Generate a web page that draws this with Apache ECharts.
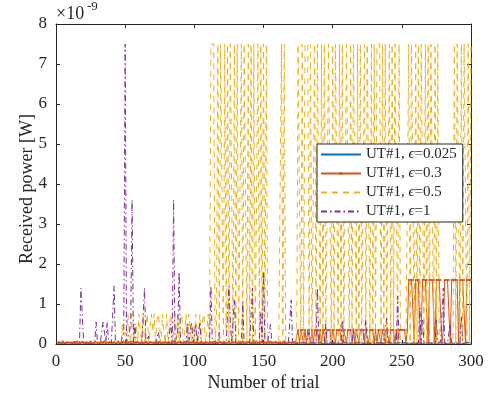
<!DOCTYPE html>
<html>
<head>
<meta charset="utf-8">
<script src="https://cdn.jsdelivr.net/npm/echarts@6/dist/echarts.min.js"></script>
<style>html,body{margin:0;padding:0;background:#fff;}#c{width:494px;height:401px;}</style>
</head>
<body>
<div id="c"></div>
<script>
// Received power (x1e-9 W) per trial, trials 1..300
var seriesNames = ['UT#1, ϵ=0.025', 'UT#1, ϵ=0.3', 'UT#1, ϵ=0.5', 'UT#1, ϵ=1'];
var xTicks = [0, 50, 100, 150, 200, 250, 300];
var yTicks = [0, 1, 2, 3, 4, 5, 6, 7, 8];

var eps0025 = [
.02,.01,.02,.03,.02,.01,.02,.02,.03,.01,
.02,.02,.01,.03,.02,.02,.01,.02,.03,.02,
.01,.02,.02,.03,.01,.02,.02,.01,.03,.02,
.02,.01,.02,.03,.02,.01,.02,.02,.03,.01,
.02,.02,.01,.03,.02,.02,.01,.02,.03,.02,
.01,.02,.02,.03,.01,.02,.02,.01,.03,.02,
.02,.01,.02,.03,.02,.01,.02,.02,.03,.01,
.02,.02,.01,.03,.02,.02,.01,.02,.03,.02,
.01,.02,.02,.03,.01,.02,.02,.01,.03,.02,
.02,.01,.02,.03,.02,.01,.02,.02,.03,.01,
.02,.02,.01,.03,.02,.02,.01,.02,.03,.02,
.01,.02,.02,.03,.01,.02,.02,.01,.03,.02,
.02,.01,.02,.03,.02,.01,.02,.02,.03,.01,
.02,.02,.01,.03,.02,.02,.01,.02,.03,.02,
.01,.02,.02,.03,.01,.02,.02,.01,.03,.02,
.02,.01,.02,.03,.02,.01,.02,.02,.03,.01,
.02,.02,.01,.03,.02,.02,.01,.02,.03,.02,
.01,.02,.02,.03,.01,.02,.02,.01,.03,.02,
.02,.01,.02,.03,.02,.01,.02,.02,.03,.01,
.02,.02,.01,.03,.02,.02,.01,.02,.03,.02,
.01,.02,.02,.03,.01,.02,.02,.01,.03,.02,
.02,.01,.02,.03,.02,.01,.02,.02,.03,.01,
.02,.02,.01,.03,.02,.02,.01,.02,.03,.02,
.01,.02,.02,.03,.01,.02,.02,.01,.03,.02,
.02,.01,.02,.03,.02,.01,.02,.02,.03,.01,
.02,.02,.01,.03,.02,.02,.01,.02,.03,.02,
.01,.02,.02,.03,.01,.02,.02,.01,.03,.02,
.02,.01,.02,.03,.02,.01,.02,.02,.03,.01,
.02,.02,.01,.03,.02,.02,.01,.02,.03,.02,
.01,.02,.02,.03,.01,.02,.02,.01,.03,.02
];

var eps03 = [
.03,.05,.02,.04,.06,.03,.02,.05,.04,.03,
.04,.02,.05,.03,.06,.02,.04,.03,.05,.02,
.03,.05,.02,.04,.06,.03,.02,.05,.04,.03,
.04,.02,.05,.03,.06,.02,.04,.03,.05,.02,
.03,.05,.02,.04,.06,.03,.02,.05,.04,.03,
.04,.02,.05,.03,.06,.02,.04,.03,.05,.02,
.03,.05,.02,.04,.06,.03,.02,.05,.04,.03,
.04,.02,.05,.03,.06,.02,.04,.03,.05,.02,
.03,.05,.02,.04,.06,.03,.02,.05,.04,.03,
.04,.02,.05,.03,.06,.02,.04,.03,.05,.02,
.03,.05,.02,.04,.06,.03,.02,.05,.04,.03,
.04,.02,.05,.03,.06,.02,.04,.03,.05,.02,
.03,.05,.02,.04,.06,.03,.02,.05,.04,.03,
.04,.02,.05,.03,.06,.02,.04,.03,.05,.02,
.03,.05,.02,.04,.06,.03,.02,.05,.04,.03,
.04,.02,.05,.03,.06,.02,.04,.03,.05,.02,
.03,.05,.02,.04,.06,.03,.02,.05,.04,.03,
.03,.05,.02,.04,.35,.02,.35,.35,.02,.35,
.02,.35,.35,.02,.35,.02,.35,.35,.35,.02,
.35,.02,.35,.35,.02,.35,.35,.35,.02,.35,
.35,.02,.35,.35,.35,.35,.02,.35,.35,.02,
.35,.35,.35,.02,.35,.02,.35,.35,.02,.35,
.35,.35,.02,.35,.35,.02,.35,.35,.35,.02,
.35,.02,.35,.35,.02,.35,.35,.02,.35,.35,
.02,.35,.35,.35,.02,.35,.02,.35,.35,.35,
.35,.35,.02,.35,1.6,1.6,1.6,1.6,.02,1.6,
1.6,1.6,.02,.35,1.6,1.6,1.6,1.6,.02,1.6,
1.6,1.6,1.6,.02,1.6,1.6,1.6,1.6,.02,.35,
1.6,1.6,1.6,1.6,.02,1.6,1.6,1.6,1.6,1.6,
.02,1.6,1.6,1.6,1.6,.02,1.6,1.6,1.6,1.6
];

var eps05 = [
.02,.03,.02,.02,.03,.02,.02,.03,.02,.02,
.03,.02,.02,.03,.02,.02,.03,.02,.02,.03,
.02,.02,.03,.02,.02,.03,.02,.02,.03,.02,
.02,.03,.02,.02,.03,.02,.02,.03,.02,.02,
.02,.03,.02,.02,.03,.02,.02,.5,.02,.3,
.02,.75,.3,.02,.75,.75,.02,.5,.02,.75,
.3,.02,.75,.02,.5,.75,.02,.02,.75,.3,
.75,.02,.6,.75,.75,.02,.75,.3,.02,.75,
.02,.5,.75,.02,.3,.75,.02,.75,.02,.6,
.75,.02,.3,.75,.02,.75,.75,.02,.5,.02,
.75,.3,.02,.75,.02,.6,.75,.02,.3,.75,
.02,7.5,7.5,7.5,.02,.5,7.5,.02,7.5,7.5,
.02,7.5,.3,7.5,.02,7.5,7.5,.02,7.5,.02,
7.5,.02,.02,7.5,.02,7.5,7.5,.02,7.5,.02,
7.5,.02,7.5,.02,.02,7.5,.02,7.5,.02,7.5,
.02,7.5,.02,.02,.03,.02,.02,.03,.02,.02,
.02,.02,7.5,.02,7.5,.02,.02,.02,.03,.02,
.02,.02,.02,.02,7.5,7.5,.02,7.5,.02,7.5,
7.5,7.5,.02,7.5,.02,.02,7.5,.02,7.5,7.5,
.02,7.5,.02,7.5,.02,.02,7.5,7.5,.02,7.5,
.02,7.5,7.5,.02,7.5,.02,7.5,.02,.02,7.5,
7.5,.02,7.5,.02,7.5,7.5,.02,7.5,.02,7.5,
.02,.02,7.5,.02,7.5,7.5,.02,7.5,.02,7.5,
.02,7.5,7.5,7.5,.02,7.5,.02,7.5,.02,.02,
7.5,.02,7.5,.02,7.5,7.5,.02,7.5,.02,.02,
.02,.03,.02,.02,7.5,.02,7.5,7.5,.02,7.5,
.02,7.5,.02,7.5,7.5,.02,7.5,.02,7.5,.02,
7.5,7.5,.02,7.5,.02,7.5,.02,.02,.03,.02,
.02,.02,.03,.02,.02,.02,.02,7.5,.02,7.5,
7.5,.02,7.5,.02,7.5,7.5,.02,7.5,.02,7.5
];

var eps1 = [
.03,.02,.04,.03,.02,.03,.04,.02,.03,.02,
.03,.02,.04,.03,.02,.03,.04,1.4,1.4,.03,
.02,.03,.04,.02,.03,.02,.03,.04,.55,.03,
.02,.03,.04,.55,.3,.04,.55,.03,.02,.04,
.03,1.45,.02,.04,.03,.02,.04,.03,.3,7.5,
.05,.02,.3,.5,3.6,.04,.5,.03,.02,.04,
.03,.02,.04,1.4,.03,.02,.2,.04,.03,.02,
.04,.03,.02,.3,.04,.03,.02,.04,.03,.02,
.04,.03,.5,.02,3.6,.04,.03,.3,1.8,.03,
.02,.04,.03,.02,.5,.04,.03,.55,.02,.04,
.5,.03,.02,.55,.04,.03,.02,.04,.03,.02,
.04,1.45,.03,.02,.04,.03,.02,.3,.04,.03,
.02,.04,.03,.02,1.45,.6,.03,.02,1.1,.04,
.03,.02,.04,.03,1.05,.02,.04,.03,.02,.04,
.03,1.4,.02,.04,.03,.02,.04,.8,.03,1.8,
.04,.03,.02,.04,.5,.03,.02,.04,.03,.02,
.04,.03,.02,.04,.03,.02,.04,.03,.02,1.1,
.03,.02,.04,.03,.02,.04,.03,.02,.04,.03,
.02,.04,.3,.03,.02,.04,.03,.02,1.4,.04,
.03,.02,.04,.03,.5,.02,.04,.03,.02,.04,
.03,.02,.04,.03,.02,.04,.6,.03,.02,.04,
.03,.02,.04,.03,.4,.02,.04,.03,.02,.04,
.03,.02,.04,.6,.02,.04,.03,.02,.04,.03,
.02,.04,.03,.02,.04,.03,.02,.04,.65,.03,
.02,.04,.03,.02,.04,.03,1.2,.02,.04,.03,
.02,.04,.03,.02,.04,.03,.02,.04,.03,.02,
.04,.03,.9,.02,.6,.03,.02,.04,.03,.02,
.04,.03,.02,.04,.6,.03,.02,.04,.03,1.4,
.02,.04,.03,.02,.5,.03,.02,.04,.03,.02,
.04,.03,.7,.02,.04,.03,.02,.04,.03,.02
];

function pairs(arr) { return arr.map(function (v, i) { return [i + 1, v]; }); }

var FONT = '"Liberation Serif", "Times New Roman", serif';
var AX = '#262626';
var chart = echarts.init(document.getElementById('c'), null, { renderer: 'canvas' });

var commonX = { type: 'value', min: xTicks[0], max: xTicks[xTicks.length - 1], interval: 50 };
var commonY = { type: 'value', min: yTicks[0], max: yTicks[yTicks.length - 1], interval: 1 };

chart.setOption({
  animation: false,
  backgroundColor: '#fff',
  grid: { left: 56, right: 23, top: 24, bottom: 57 },
  graphic: [
    { type: 'text', left: 56, top: 5, style: { text: '×10', font: '18px ' + FONT, fill: AX } },
    { type: 'text', left: 87, top: 0, style: { text: '-9', font: '13px ' + FONT, fill: AX } }
  ],
  xAxis: [
    Object.assign({}, commonX, {
      position: 'bottom',
      name: 'Number of trial', nameLocation: 'middle', nameGap: 30, nameMoveOverlap: false,
      nameTextStyle: { fontFamily: FONT, fontSize: 18, color: AX },
      axisLine: { show: true, onZero: false, lineStyle: { color: AX, width: 1 } },
      axisTick: { show: true, inside: true, length: 4, lineStyle: { color: AX } },
      axisLabel: { fontFamily: FONT, fontSize: 17, color: AX, margin: 9 },
      splitLine: { show: false }
    }),
    Object.assign({}, commonX, {
      position: 'top',
      axisLine: { show: true, onZero: false, lineStyle: { color: AX, width: 1 } },
      axisTick: { show: true, inside: true, length: 4, lineStyle: { color: AX } },
      axisLabel: { show: false },
      splitLine: { show: false }
    })
  ],
  yAxis: [
    Object.assign({}, commonY, {
      position: 'left',
      name: 'Received power [W]', nameLocation: 'middle', nameGap: 20, nameMoveOverlap: false,
      nameTextStyle: { fontFamily: FONT, fontSize: 18, color: AX, padding: [0, 10, 0, 0] },
      axisLine: { show: true, onZero: false, lineStyle: { color: AX, width: 1 } },
      axisTick: { show: true, inside: true, length: 4, lineStyle: { color: AX } },
      axisLabel: { fontFamily: FONT, fontSize: 17, color: AX, margin: 9 },
      splitLine: { show: false }
    }),
    Object.assign({}, commonY, {
      position: 'right',
      axisLine: { show: true, onZero: false, lineStyle: { color: AX, width: 1 } },
      axisTick: { show: true, inside: true, length: 4, lineStyle: { color: AX } },
      axisLabel: { show: false },
      splitLine: { show: false }
    })
  ],
  legend: {
    orient: 'vertical',
    left: 317, top: 144,
    padding: [3, 6, 3, 3],
    itemGap: 4,
    itemWidth: 40,
    itemHeight: 4,
    backgroundColor: '#fff',
    borderColor: AX,
    borderWidth: 1,
    borderRadius: 0,
    formatter: function (n) { return n.replace('ϵ', '{i|ϵ}'); },
    textStyle: {
      fontFamily: FONT, fontSize: 15, color: AX, lineHeight: 15,
      rich: { i: { fontFamily: FONT, fontSize: 15, fontStyle: 'italic', color: AX, lineHeight: 15 } }
    },
    data: [
      { name: seriesNames[0], itemStyle: { opacity: 0 } },
      { name: seriesNames[1] },
      { name: seriesNames[2], itemStyle: { opacity: 0 } },
      { name: seriesNames[3], itemStyle: { opacity: 0 } }
    ]
  },
  series: [
    { name: seriesNames[0], type: 'line', data: pairs(eps0025), showSymbol: false, symbol: 'none',
      lineStyle: { color: '#0072BD', width: 1 }, itemStyle: { color: '#0072BD' } },
    { name: seriesNames[1], type: 'line', data: pairs(eps03), symbol: 'circle', symbolSize: 2, showAllSymbol: true,
      lineStyle: { color: '#D95319', width: 1 }, itemStyle: { color: '#D95319' } },
    { name: seriesNames[2], type: 'line', data: pairs(eps05), showSymbol: false, symbol: 'none',
      lineStyle: { color: '#EDB120', width: 1, type: [6, 5] }, itemStyle: { color: '#EDB120' } },
    { name: seriesNames[3], type: 'line', data: pairs(eps1), showSymbol: false, symbol: 'none',
      lineStyle: { color: '#7E2F8E', width: 1, type: [6, 3, 1.5, 3] }, itemStyle: { color: '#7E2F8E' } }
  ]
});
</script>
</body>
</html>
